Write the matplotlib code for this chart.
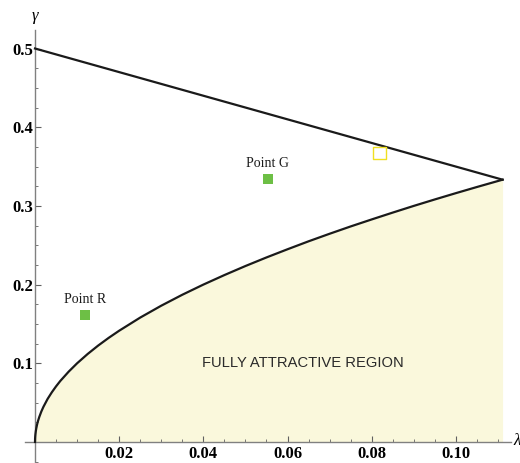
import matplotlib
matplotlib.use("Agg")
import matplotlib.pyplot as plt
from matplotlib.ticker import MultipleLocator, FixedLocator

# Data
lam_curve = [0.0, 0.00002, 0.00005, 0.0001, 0.0002, 0.0003, 0.0005, 0.0007, 0.001, 0.0015,
             0.002, 0.003, 0.004, 0.005, 0.006, 0.008, 0.01, 0.0125, 0.015, 0.0175,
             0.02, 0.025, 0.03, 0.035, 0.04, 0.045, 0.05, 0.055, 0.06, 0.065, 0.07,
             0.075, 0.08, 0.085, 0.09, 0.095, 0.1, 0.105, 0.1111]
gam_curve = [0.0, 0.0045, 0.0071, 0.010, 0.0141, 0.0173, 0.0224, 0.0265, 0.0316, 0.0387,
             0.0447, 0.0548, 0.0632, 0.0707, 0.0775, 0.0894, 0.100, 0.1118, 0.1225, 0.1323,
             0.1414, 0.1581, 0.1732, 0.1871, 0.200, 0.2121, 0.2236, 0.2345, 0.2449, 0.2550, 0.2646,
             0.2739, 0.2828, 0.2915, 0.300, 0.3082, 0.3162, 0.3240, 0.3333]
lam_line = [0.0, 0.1111]
gam_line = [0.5, 0.3333]
point_names = ["Point G", "Point R"]
point_lam = [0.0553, 0.0119]
point_gam = [0.334, 0.161]
open_lam = [0.0819]
open_gam = [0.367]
xticks = [0.02, 0.04, 0.06, 0.08, 0.10]
xtick_labels = ["0.02", "0.04", "0.06", "0.08", "0.10"]
yticks = [0.1, 0.2, 0.3, 0.4, 0.5]
ytick_labels = ["0.1", "0.2", "0.3", "0.4", "0.5"]
region_label = "FULLY ATTRACTIVE REGION"

W, H = 520, 463
fig = plt.figure(figsize=(W / 100, H / 100), dpi=100)
ax = fig.add_axes([25 / W, 0, 486 / W, (463 - 30.4) / H])
ax.set_xlim(-0.00238, 0.1131)
ax.set_ylim(-0.0267, 0.523)

ax.fill_between(lam_curve, 0, gam_curve, color="#faf8dc", lw=0, zorder=1)
ax.plot(lam_curve, gam_curve, color="#1a1a1a", lw=1.6, zorder=3)
ax.plot(lam_line, gam_line, color="#1a1a1a", lw=1.6, zorder=3)

ax.scatter(point_lam, point_gam, marker="s", s=60, color="#6dbf45", lw=0, zorder=4)
ax.scatter(open_lam, open_gam, marker="s", s=80, facecolor="none",
           edgecolor="#f0e020", lw=1.0, zorder=4)
for name, x, y in zip(point_names, point_lam, point_gam):
    ax.annotate(name, (x, y), xytext=(0, 9), textcoords="offset points",
                ha="center", va="baseline", fontsize=10, family="Liberation Serif",
                color="#1a1a1a")

ax.text(0.0636, 0.10, region_label, ha="center", va="center",
        fontsize=10.6, family="Liberation Sans", color="#2a2a2a")

for s in ["top", "right"]:
    ax.spines[s].set_visible(False)
ax.spines["left"].set_position(("data", 0))
ax.spines["bottom"].set_position(("data", 0))
for s in ["left", "bottom"]:
    ax.spines[s].set_color("#808080")
    ax.spines[s].set_linewidth(1.0)

ax.xaxis.set_major_locator(FixedLocator(xticks))
ax.yaxis.set_major_locator(FixedLocator(yticks))
ax.xaxis.set_minor_locator(MultipleLocator(0.005))
ax.yaxis.set_minor_locator(MultipleLocator(0.025))
ax.set_xticklabels(xtick_labels, fontsize=12, fontweight="bold", family="Liberation Serif")
ax.set_yticklabels(ytick_labels, fontsize=12, fontweight="bold", family="Liberation Serif")
ax.tick_params(which="major", direction="in", length=4, width=0.8, color="#606060")
ax.tick_params(axis="x", which="major", pad=3)
ax.tick_params(axis="y", which="major", pad=1.5)
ax.tick_params(which="minor", direction="in", length=2, width=0.6, color="#606060")

fig.text(513 / W, 1 - 441 / H, "λ", ha="left", va="center", fontsize=12,
         style="italic", family="Liberation Serif")
fig.text(35 / W, 1 - 16 / H, "γ", ha="center", va="center", fontsize=12,
         style="italic", family="Liberation Serif")

fig.savefig("out.png", dpi=100)
